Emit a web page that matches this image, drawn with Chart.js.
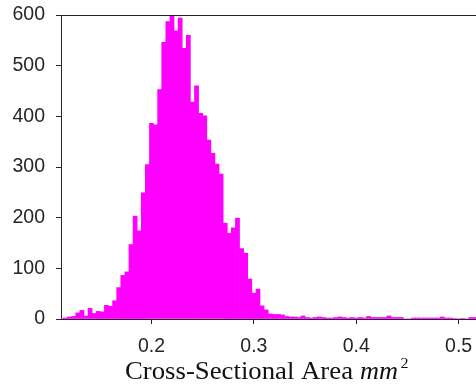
<!DOCTYPE html>
<html>
<head>
<meta charset="utf-8">
<script src="https://cdn.jsdelivr.net/npm/chart.js"></script>
<style>
  html, body { margin: 0; padding: 0; background: #fff; }
  #wrap { width: 476px; height: 385px; }
</style>
</head>
<body>
<div id="wrap"><canvas id="histChart" width="476" height="385"></canvas></div>
<script>
// ==================== Data ====================
const binCenters = [
    0.112, 0.116, 0.120, 0.124, 0.128, 0.132, 0.136, 0.140, 0.144, 0.148,
    0.152, 0.156, 0.160, 0.164, 0.168, 0.172, 0.176, 0.180, 0.184, 0.188,
    0.192, 0.196, 0.200, 0.204, 0.208, 0.212, 0.216, 0.220, 0.224, 0.228,
    0.232, 0.236, 0.240, 0.244, 0.248, 0.252, 0.256, 0.260, 0.264, 0.268,
    0.272, 0.276, 0.280, 0.284, 0.288, 0.292, 0.296, 0.300, 0.304, 0.308,
    0.312, 0.316, 0.320, 0.324, 0.328, 0.332, 0.336, 0.340, 0.344, 0.348,
    0.352, 0.356, 0.360, 0.364, 0.368, 0.372, 0.376, 0.380, 0.384, 0.388,
    0.392, 0.396, 0.400, 0.404, 0.408, 0.412, 0.416, 0.420, 0.424, 0.428,
    0.432, 0.436, 0.440, 0.444, 0.448, 0.452, 0.456, 0.460, 0.464, 0.468,
    0.472, 0.476, 0.480, 0.484, 0.488, 0.492, 0.496, 0.500, 0.504, 0.508,
    0.512, 0.516
];
const binCounts = [
    1, 2, 4, 5, 12, 17, 6, 21, 11, 15,
    14, 27, 25, 36, 62, 86, 93, 147, 203, 174,
    249, 305, 386, 383, 453, 546, 587, 600, 569, 594,
    534, 560, 428, 460, 406, 401, 353, 327, 306, 286,
    189, 169, 180, 199, 139, 130, 79, 51, 59, 26,
    18, 10, 9, 9, 8, 5, 4, 4, 3, 6,
    3, 2, 3, 4, 3, 2, 2, 3, 4, 3,
    2, 3, 2, 3, 2, 5, 3, 3, 3, 3,
    6, 3, 3, 3, 0, 0, 2, 2, 2, 2,
    2, 2, 2, 4, 2, 2, 1, 0, 1, 0,
    3, 3
];
const xTicks = [0.2, 0.3, 0.4, 0.5];
const yTicks = [0, 100, 200, 300, 400, 500, 600];
const xLabel = "Cross-Sectional Area";
const xLabelUnit = "mm";
const xLabelPower = "2";

// ==================== Chart ====================
const axisColor = "#262626";
const tickFont = { family: "'Liberation Sans', Arial, sans-serif", size: 19.5 };

// draw text squeezed/stretched to a given width
function fitText(ctx, text, font, x, y, width) {
    ctx.font = font;
    const w = ctx.measureText(text).width;
    ctx.save();
    ctx.translate(x, y);
    ctx.scale(width / w, 1);
    ctx.fillText(text, 0, 0);
    ctx.restore();
}

// top border line + LaTeX-like x label
const frameAndLabel = {
    id: "frameAndLabel",
    afterDraw(chart) {
        const ctx = chart.ctx;
        const area = chart.chartArea;
        ctx.save();
        ctx.strokeStyle = axisColor;
        ctx.lineWidth = 1;
        ctx.beginPath();
        ctx.moveTo(area.left, area.top + 0.5);
        ctx.lineTo(area.right, area.top + 0.5);
        ctx.stroke();

        ctx.fillStyle = "#111";
        ctx.textBaseline = "alphabetic";
        fitText(ctx, xLabel, "25px 'Liberation Serif', 'Times New Roman', serif", 125, 379, 228);
        fitText(ctx, xLabelUnit, "italic 25px 'Liberation Serif', 'Times New Roman', serif", 360, 379, 38);
        fitText(ctx, xLabelPower, "14px 'Liberation Serif', 'Times New Roman', serif", 400.5, 368, 8);
        ctx.restore();
    }
};

const points = binCenters.map((c, i) => ({ x: c, y: binCounts[i] }));

new Chart(document.getElementById("histChart"), {
    type: "bar",
    data: {
        datasets: [{
            data: points,
            backgroundColor: "#ff00ff",
            borderWidth: 0,
            barPercentage: 1.0,
            categoryPercentage: 1.0
        }]
    },
    options: {
        responsive: false,
        animation: false,
        devicePixelRatio: 1,
        layout: { padding: { top: 15, right: 0, left: 0, bottom: 0 } },
        plugins: {
            legend: { display: false },
            tooltip: { enabled: false }
        },
        scales: {
            x: {
                type: "linear",
                offset: false,
                min: 0.1116,
                max: 0.517,
                afterBuildTicks: (scale) => { scale.ticks = xTicks.map(v => ({ value: v })); },
                afterFit: (scale) => {
                    scale.height = 66;
                    scale.paddingLeft = 0;
                    scale.paddingRight = 0;
                },
                ticks: {
                    color: axisColor,
                    font: tickFont,
                    padding: 11,
                    maxRotation: 0,
                    callback: (v) => v.toFixed(1)
                },
                grid: {
                    display: true,
                    offset: false,
                    drawOnChartArea: false,
                    drawTicks: true,
                    tickLength: 5,
                    color: axisColor
                },
                border: { display: true, color: axisColor, width: 1 }
            },
            y: {
                min: 0,
                max: 600,
                afterBuildTicks: (scale) => { scale.ticks = yTicks.map(v => ({ value: v })); },
                afterFit: (scale) => {
                    scale.width = 61;
                    scale.paddingTop = 0;
                    scale.paddingBottom = 0;
                },
                ticks: {
                    color: axisColor,
                    font: tickFont,
                    padding: 11
                },
                grid: {
                    display: true,
                    drawOnChartArea: false,
                    drawTicks: true,
                    tickLength: 5,
                    color: axisColor
                },
                border: { display: true, color: axisColor, width: 1 }
            }
        }
    },
    plugins: [frameAndLabel]
});
</script>
</body>
</html>
